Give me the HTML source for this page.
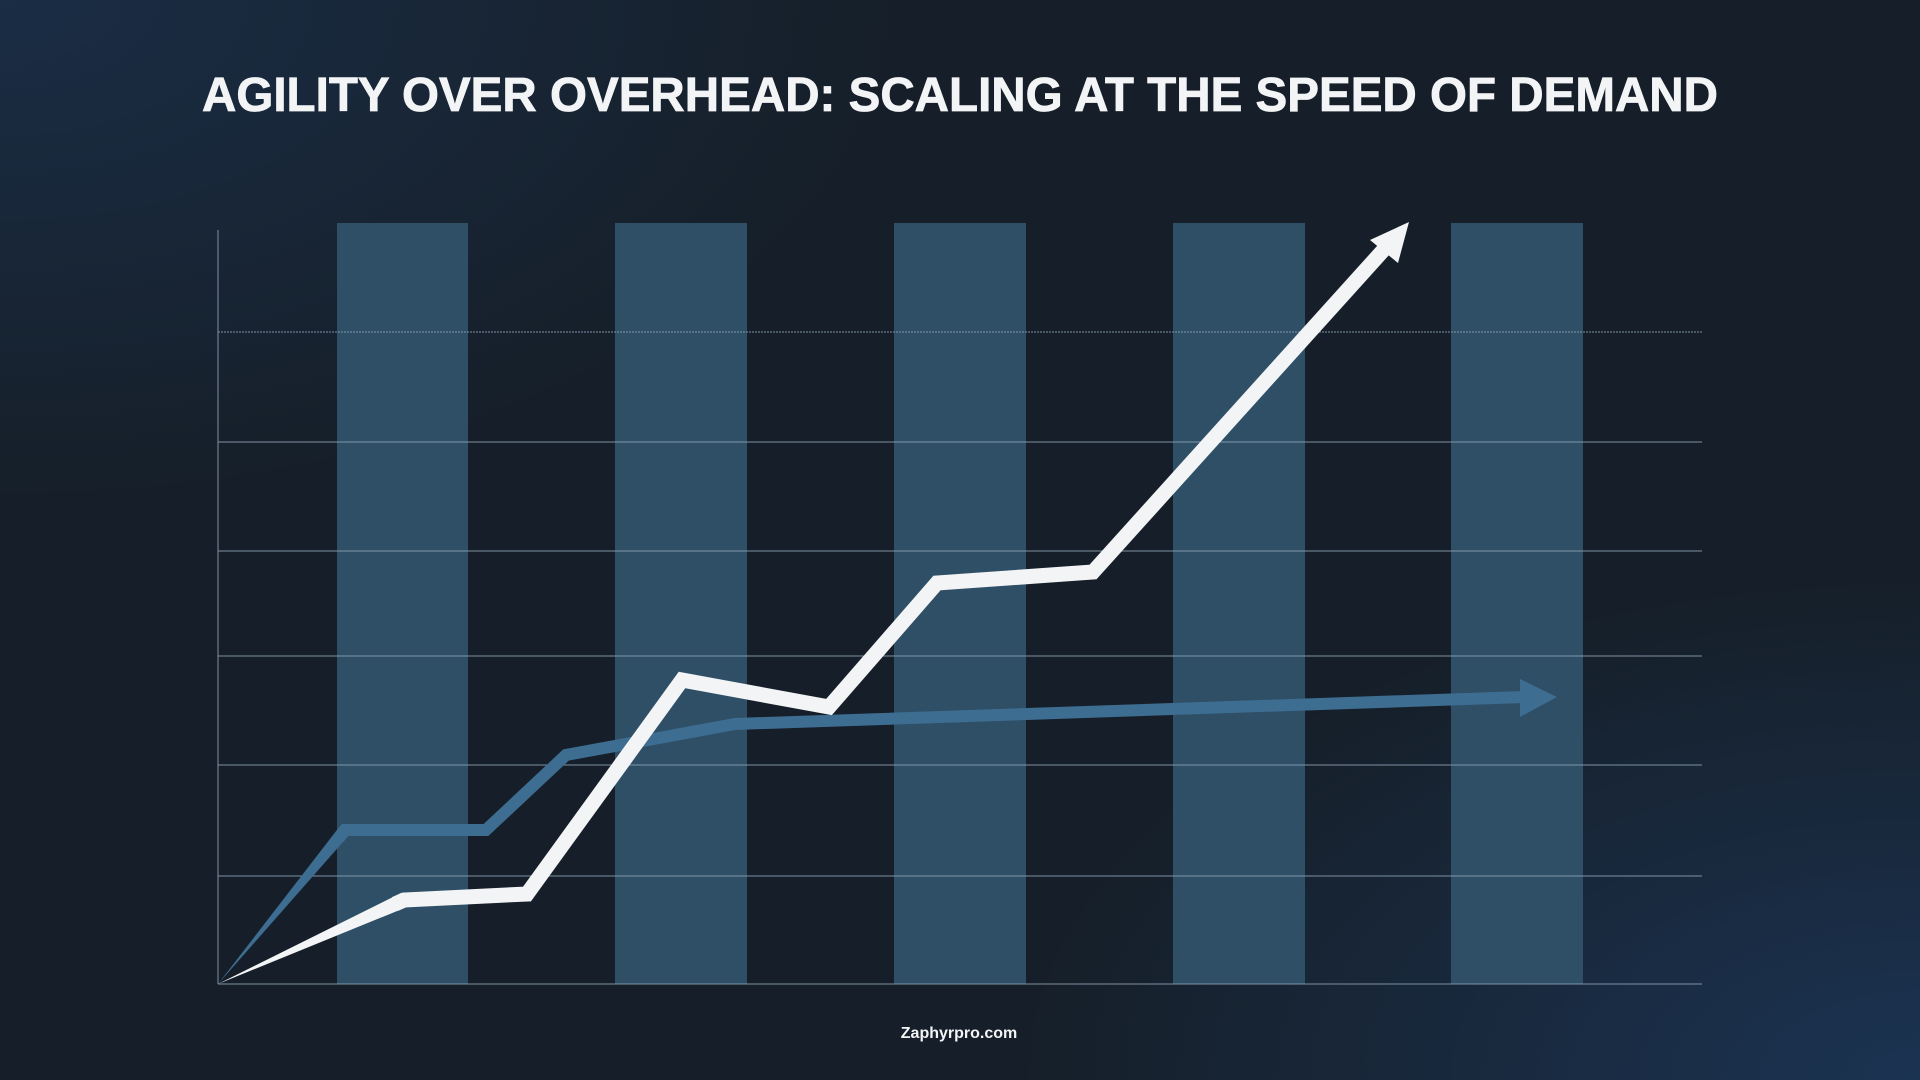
<!DOCTYPE html>
<html><head><meta charset="utf-8"><style>
html,body{margin:0;padding:0;width:1920px;height:1080px;overflow:hidden}
body{background:radial-gradient(ellipse 900px 500px at 0% 0%,#1a2d45 0%,rgba(22,31,41,0) 100%),radial-gradient(ellipse 900px 500px at 100% 100%,#1b3352 0%,rgba(22,31,41,0) 100%),#161f29}
</style></head><body>
<svg width="1920" height="1080" viewBox="0 0 1920 1080" xmlns="http://www.w3.org/2000/svg" style="position:absolute;left:0;top:0">
<text x="960" y="111" text-anchor="middle" font-family="Liberation Sans, sans-serif" font-weight="bold" font-size="48" fill="#f3f4f6" stroke="#f3f4f6" stroke-width="0.8" textLength="1516" lengthAdjust="spacingAndGlyphs">AGILITY OVER OVERHEAD: SCALING AT THE SPEED OF DEMAND</text>
<g fill="#2e4f66">
<rect x="337" y="223" width="131" height="761"/>
<rect x="615" y="223" width="132" height="761"/>
<rect x="894" y="223" width="132" height="761"/>
<rect x="1173" y="223" width="132" height="761"/>
<rect x="1451" y="223" width="132" height="761"/>
</g>
<g stroke="#8fa4b8" stroke-width="1" opacity="0.85">
<line x1="218" y1="332" x2="1702" y2="332" stroke-dasharray="2 1"/>
<line x1="218" y1="442" x2="1702" y2="442"/>
<line x1="218" y1="551" x2="1702" y2="551"/>
<line x1="218" y1="656" x2="1702" y2="656"/>
<line x1="218" y1="765" x2="1702" y2="765"/>
<line x1="218" y1="876" x2="1702" y2="876"/>
<line x1="218" y1="984" x2="1702" y2="984"/>
<line x1="218" y1="230" x2="218" y2="984"/>
</g>
<polygon points="218,984 340,826 350,834" fill="#3e6d92"/>
<polyline points="339,838 345,830 486,830 566,755 735,724 1524,697" fill="none" stroke="#3e6d92" stroke-width="12" stroke-linejoin="miter"/>
<polygon points="1557,697 1520,679 1520,717" fill="#3e6d92"/>
<polygon points="218,984 401,893 407,907" fill="#f3f4f6"/>
<polyline points="395,904 404,900 527,894 682,680 829,707 937,583 1093,572 1388,245" fill="none" stroke="#f3f4f6" stroke-width="15" stroke-linejoin="miter"/>
<polygon points="1409,222 1370,240 1398,263" fill="#f3f4f6"/>
<text x="959" y="1038" text-anchor="middle" font-family="Liberation Sans, sans-serif" font-weight="bold" font-size="16" fill="#f3f4f6">Zaphyrpro.com</text>
</svg>
</body></html>
